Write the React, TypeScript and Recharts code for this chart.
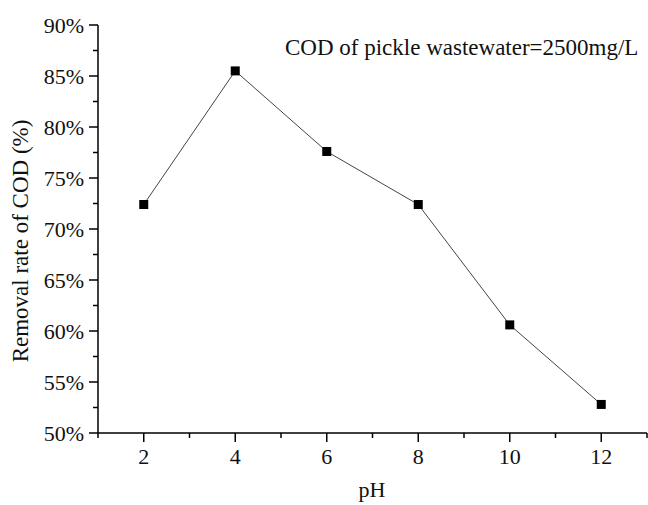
import { LineChart, Line, XAxis, YAxis } from 'recharts';

const phValues = [2, 4, 6, 8, 10, 12];
const removalRate = [72.4, 85.5, 77.6, 72.4, 60.6, 52.8];
const xTicks = [1, 2, 3, 4, 5, 6, 7, 8, 9, 10, 11, 12, 13];
const yTicks = [50, 52.5, 55, 57.5, 60, 62.5, 65, 67.5, 70, 72.5, 75, 77.5, 80, 82.5, 85, 87.5, 90];
const note = 'COD of pickle wastewater=2500mg/L';

const FONT = '"Liberation Serif", "Times New Roman", serif';

const data = phValues.map((ph, i) => ({ ph, rate: removalRate[i] }));

const XTick = ({ x, y, payload }: any) => {
  const major = payload.value % 2 === 0;
  return (
    <g>
      <line x1={x} x2={x} y1={y} y2={y + (major ? 9 : 5)} stroke="#000" strokeWidth={1.5} />
      {major && (
        <text x={x} y={y + 31} textAnchor="middle" fontFamily={FONT} fontSize={22} fill="#111">
          {payload.value}
        </text>
      )}
    </g>
  );
};

const YTick = ({ x, y, payload }: any) => {
  const major = payload.value % 5 === 0;
  return (
    <g>
      <line x1={x} x2={x - (major ? 9 : 5)} y1={y} y2={y} stroke="#000" strokeWidth={1.5} />
      {major && (
        <text x={x - 14} y={y + 8} textAnchor="end" fontFamily={FONT} fontSize={22} fill="#111">
          {payload.value}%
        </text>
      )}
    </g>
  );
};

const SquareDot = ({ cx, cy }: any) => (
  <rect x={cx - 4.5} y={cy - 4.5} width={9} height={9} fill="#000" />
);

export default function App() {
  return (
    <div style={{ position: 'absolute', left: 0, top: 0, width: 648, height: 505, background: '#fff' }}>
      <LineChart width={648} height={505} data={data} margin={{ top: 25, right: 1, left: 0, bottom: 0 }}>
        <XAxis
          dataKey="ph"
          type="number"
          domain={[1, 13]}
          ticks={xTicks}
          interval={0}
          tickSize={0}
          tickMargin={0}
          tickLine={false}
          tick={<XTick />}
          height={72}
          axisLine={{ stroke: '#000', strokeWidth: 1.5 }}
          label={{
            content: () => (
              <text x={372} y={497} textAnchor="middle" fontFamily={FONT} fontSize={22} fill="#111">
                pH
              </text>
            ),
          }}
        />
        <YAxis
          type="number"
          domain={[50, 90]}
          ticks={yTicks}
          interval={0}
          tickSize={0}
          tickMargin={0}
          tickLine={false}
          tick={<YTick />}
          width={98}
          axisLine={{ stroke: '#000', strokeWidth: 1.5 }}
          label={{
            content: () => (
              <text
                x={28}
                y={241}
                transform="rotate(-90 28 241)"
                textAnchor="middle"
                fontFamily={FONT}
                fontSize={23}
                fill="#111"
              >
                Removal rate of COD (%)
              </text>
            ),
          }}
        />
        <Line
          dataKey="rate"
          stroke="#444"
          strokeWidth={1}
          dot={<SquareDot />}
          activeDot={false}
          isAnimationActive={false}
        />
      </LineChart>
      <div
        style={{
          position: 'absolute',
          left: 285,
          top: 34,
          fontFamily: FONT,
          fontSize: 23,
          color: '#111',
          whiteSpace: 'nowrap',
          lineHeight: '28px',
        }}
      >
        {note}
      </div>
    </div>
  );
}
